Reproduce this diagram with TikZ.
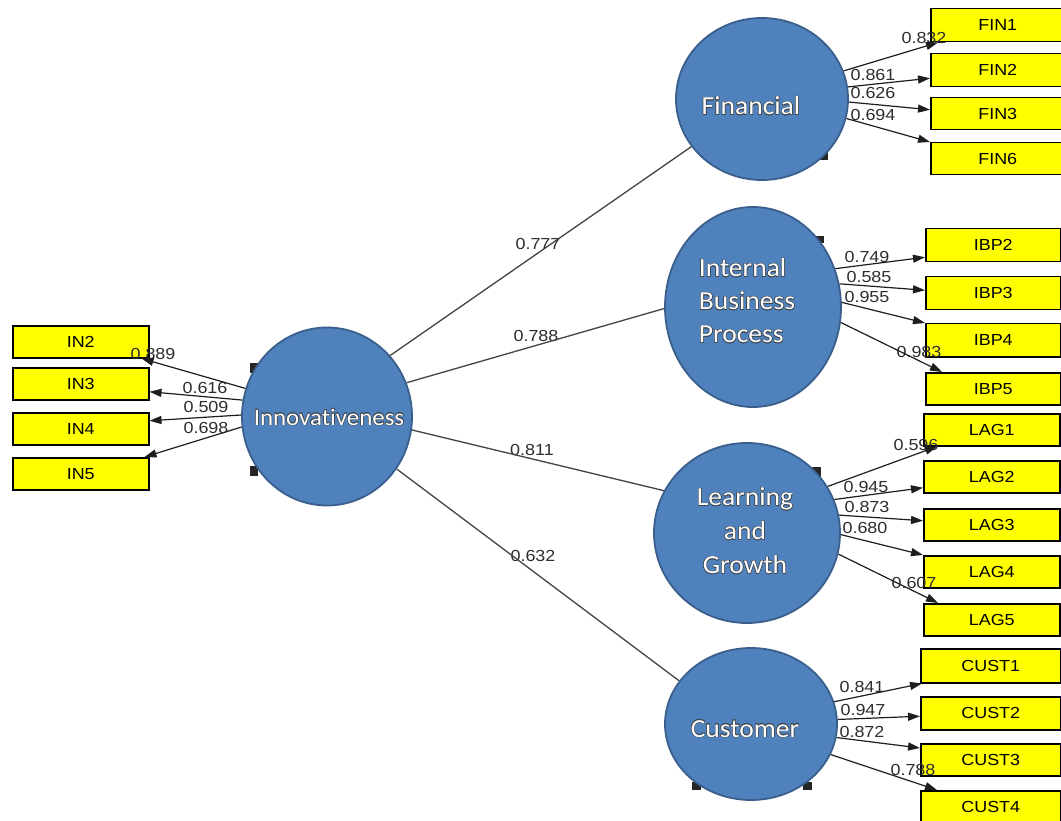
\documentclass[tikz,border=0pt]{standalone}
\usepackage{fontspec}
\usepackage[copies]{contour}
\usetikzlibrary{shapes.geometric,arrows.meta,calc}
\newfontfamily\indfam[FakeStretch=1.12]{Liberation Sans}
\newfontfamily\lvfam[FakeStretch=1.06,Ligatures=NoCommon]{Carlito}
\definecolor{lvfill}{HTML}{4F81BD}
\definecolor{lvline}{HTML}{3A5F8C}
\definecolor{indfill}{HTML}{FFFF00}
\definecolor{wire}{HTML}{1E1E1E}
\definecolor{pathgray}{HTML}{444444}
\definecolor{numgray}{HTML}{2E2E2E}
\definecolor{glow}{HTML}{404850}
\contourlength{0.5pt}
\newcommand\lvname[1]{\contour{glow}{#1}}
\pgfdeclarelayer{front}
\pgfsetlayers{main,front}
\tikzset{
  lv/.style={ellipse, draw=lvline, line width=1.8pt, fill=lvfill, inner sep=0pt},
  lvtext/.style={text=white, inner sep=0pt, font=\lvfam\fontsize{26}{33}\selectfont},
  ind/.style={rectangle, draw=black, line width=1.5pt, fill=indfill, inner sep=0pt,
    anchor=north west, font=\indfam\fontsize{16}{18}\selectfont},
  num/.style={inner sep=0pt, text=numgray, font=\indfam\fontsize{16}{18}\selectfont},
  load/.style={wire, line width=1.2pt, -{Triangle[length=12pt,width=8pt]}},
  struct/.style={pathgray, line width=1.3pt},
  handle/.style={fill=black!85}
}
\begin{document}
\begin{tikzpicture}[x=1pt,y=-1pt]
\useasboundingbox (0,0) rectangle (1061,821);
\fill[white] (0,0) rectangle (1061,821);

% indicator boxes
\node[ind, minimum width=136pt, minimum height=32pt] (in2) at (12,325) {IN2};
\node[ind, minimum width=136pt, minimum height=32pt] (in3) at (12,367) {IN3};
\node[ind, minimum width=136pt, minimum height=32pt] (in4) at (12,412) {IN4};
\node[ind, minimum width=136pt, minimum height=32pt] (in5) at (12,457) {IN5};

\node[ind, minimum width=134pt, minimum height=33pt] (fin1) at (930,8) {FIN1};
\node[ind, minimum width=134pt, minimum height=33pt] (fin2) at (930,53) {FIN2};
\node[ind, minimum width=134pt, minimum height=32pt] (fin3) at (930,97) {FIN3};
\node[ind, minimum width=134pt, minimum height=32pt] (fin6) at (930,142) {FIN6};

\node[ind, minimum width=135pt, minimum height=33pt] (ibp2) at (925,228) {IBP2};
\node[ind, minimum width=135pt, minimum height=33pt] (ibp3) at (925,276) {IBP3};
\node[ind, minimum width=135pt, minimum height=33pt] (ibp4) at (925,323) {IBP4};
\node[ind, minimum width=135pt, minimum height=32pt] (ibp5) at (925,372) {IBP5};

\node[ind, minimum width=136pt, minimum height=32pt] (lag1) at (923,413) {LAG1};
\node[ind, minimum width=136pt, minimum height=32pt] (lag2) at (923,460) {LAG2};
\node[ind, minimum width=136pt, minimum height=32pt] (lag3) at (923,508) {LAG3};
\node[ind, minimum width=136pt, minimum height=32pt] (lag4) at (923,555) {LAG4};
\node[ind, minimum width=136pt, minimum height=32pt] (lag5) at (923,603) {LAG5};

\node[ind, minimum width=140pt, minimum height=34pt] (cust1) at (920,648) {CUST1};
\node[ind, minimum width=140pt, minimum height=33pt] (cust2) at (920,696) {CUST2};
\node[ind, minimum width=140pt, minimum height=32pt] (cust3) at (920,743) {CUST3};
\node[ind, minimum width=140pt, minimum height=32pt] (cust4) at (920,790) {CUST4};

% loading values
\node[num] (v-in2) at (153,354) {0.889};
\node[num] (v-in3) at (205,388) {0.616};
\node[num] (v-in4) at (206,407) {0.509};
\node[num] (v-in5) at (206,428) {0.698};

\node[num] (v-fin1) at (924,38) {0.832};
\node[num] (v-fin2) at (873,75) {0.861};
\node[num] (v-fin3) at (873,93) {0.626};
\node[num] (v-fin6) at (873,115) {0.694};

\node[num] (v-ibp2) at (867,257) {0.749};
\node[num] (v-ibp3) at (869,277) {0.585};
\node[num] (v-ibp4) at (867,297) {0.955};
\node[num] (v-ibp5) at (919,352) {0.983};

\node[num] (v-lag1) at (916,445) {0.596};
\node[num] (v-lag2) at (866,487) {0.945};
\node[num] (v-lag3) at (867,507) {0.873};
\node[num] (v-lag4) at (865,528) {0.680};
\node[num] (v-lag5) at (914,583) {0.607};

\node[num] (v-cust1) at (862,687) {0.841};
\node[num] (v-cust2) at (863,710) {0.947};
\node[num] (v-cust3) at (862,732) {0.872};
\node[num] (v-cust4) at (913,770) {0.788};

% path coefficients
\node[num] (p-fin) at (538,244) {0.777};
\node[num] (p-ibp) at (536,336) {0.788};
\node[num] (p-lag) at (532,450) {0.811};
\node[num] (p-cust) at (533,556) {0.632};

% latent variables (front layer, covering the line ends)
\begin{pgfonlayer}{front}
\node[lv, minimum width=170pt, minimum height=178pt] (inn) at (327,416.5) {};
\node[lv, minimum width=172pt, minimum height=162pt] (fin) at (762,99) {};
\node[lv, minimum width=176pt, minimum height=200pt] (ibp) at (753,307) {};
\node[lv, minimum width=186pt, minimum height=180pt] (lag) at (747,533) {};
\node[lv, minimum width=172pt, minimum height=152pt] (cust) at (751,724) {};

\node[lvtext, anchor=base, font=\lvfam\fontsize{23.5}{28}\selectfont] (inn-t) at (329,425) {\lvname{Innovativeness}};
\node[lvtext, anchor=base] (fin-t) at (751,115) {\lvname{Financial}};
\node[lvtext, align=left] (ibp-t) at (747,301)
  {\lvname{Internal}\\\lvname{Business}\\\lvname{Process}};
\node[lvtext, align=center, font=\lvfam\fontsize{26}{34}\selectfont] (lag-t) at (745,531)
  {\lvname{Learning}\\\lvname{and}\\\lvname{Growth}};
\node[lvtext, anchor=base] (cust-t) at (745,737) {\lvname{Customer}};
\end{pgfonlayer}

% frame corners showing behind the ellipses
\fill[handle] (250,363) rectangle (259,373);
\fill[handle] (250,466) rectangle (258,476);
\fill[handle] (819,152) rectangle (828,160);
\fill[handle] (814,236) rectangle (824,243);
\fill[handle] (812,467) rectangle (821,478);
\fill[handle] (692,782) rectangle (701,790);
\fill[handle] (803,782) rectangle (812,790);

% structural paths
\draw[struct] (inn.44) -- (fin.214);
\draw[struct] (inn.23) -- (ibp.181);
\draw[struct] (inn.351) -- (lag.153);
\draw[struct] (inn.323) -- (cust.149);

% measurement arrows
\draw[load] (inn.161) -- ($(in2.south east)+(-8,0)$);
\draw[load] (inn.169) -- ($(in3.east)+(0,8)$);
\draw[load] (inn.179) -- ($(in4.east)+(0,-8)$);
\draw[load] (inn.187) -- ($(in5.north east)+(-5,0)$);

\draw[load] (fin.19) -- ($(fin1.south west)+(8,0)$);
\draw[load] (fin.8) -- ($(fin2.west)+(0,8)$);
\draw[load] (fin.358) -- ($(fin3.west)+(0,-4)$);
\draw[load] (fin.347) -- (fin6.north west);

\draw[load] (ibp.25) -- ($(ibp2.west)+(0,12)$);
\draw[load] (ibp.15) -- ($(ibp3.west)+(0,-3)$);
\draw[load] (ibp.3) -- (ibp4.north west);
\draw[load] (ibp.350) -- ($(ibp5.north west)+(17,0)$);

\draw[load] (lag.30) -- ($(lag1.south west)+(14,0)$);
\draw[load] (lag.21) -- ($(lag2.west)+(0,11)$);
\draw[load] (lag.11) -- ($(lag3.west)+(0,-4)$);
\draw[load] (lag.359) -- (lag4.north west);
\draw[load] (lag.347) -- ($(lag5.north west)+(15,0)$);

\draw[load] (cust.15) -- ($(cust1.south west)+(2,0)$);
\draw[load] (cust.3) -- ($(cust2.west)+(0,3)$);
\draw[load] (cust.351) -- ($(cust3.north west)+(0,5)$);
\draw[load] (cust.339) -- ($(cust4.north west)+(17,0)$);
\end{tikzpicture}
\end{document}
